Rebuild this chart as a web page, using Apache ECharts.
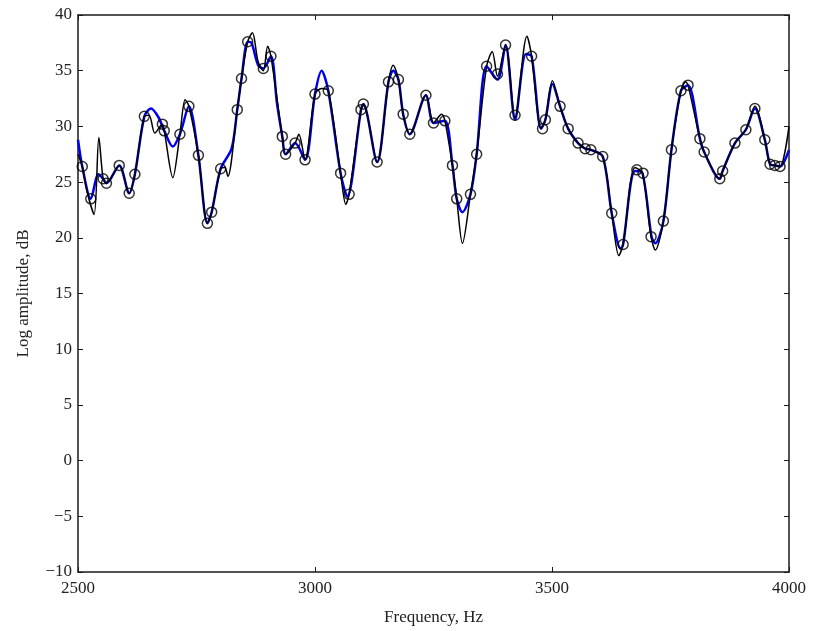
<!DOCTYPE html>
<html>
<head>
<meta charset="utf-8">
<script src="https://cdn.jsdelivr.net/npm/echarts@6/dist/echarts.min.js"></script>
<style>
    html, body { margin: 0; padding: 0; background: #fff; }
    #chart { width: 817px; height: 631px; }
</style>
</head>
<body>
<div id="chart"></div>
<script>
// smooth (blue) spectrum
var blueFreq = [2500, 2509, 2527, 2543, 2553, 2560, 2587, 2608, 2620, 2640, 2654, 2670, 2682, 2700, 2715, 2734, 2754, 2773, 2782, 2801, 2824, 2836, 2845, 2858, 2866, 2880, 2891, 2907, 2920, 2931, 2938, 2958, 2979, 3000, 3014, 3028, 3054, 3068, 3097, 3102, 3131, 3155, 3165, 3176, 3186, 3200, 3234, 3250, 3274, 3290, 3299, 3311, 3328, 3341, 3362, 3385, 3402, 3422, 3445, 3457, 3477, 3486, 3501, 3517, 3534, 3555, 3570, 3582, 3607, 3626, 3645, 3650, 3675, 3691, 3710, 3718, 3735, 3752, 3772, 3787, 3812, 3821, 3854, 3860, 3886, 3909, 3928, 3949, 3960, 3970, 3981, 4000];
var blueAmp = [28.8, 26.4, 23.5, 25.7, 25.3, 24.9, 26.5, 24.0, 25.7, 30.9, 31.6, 30.8, 29.6, 28.2, 29.3, 31.8, 27.4, 21.3, 22.3, 26.2, 28.0, 31.5, 34.3, 37.6, 37.5, 35.5, 35.2, 36.3, 32.0, 29.1, 27.5, 28.5, 27.0, 32.9, 35.0, 33.2, 25.8, 23.7, 31.5, 32.0, 26.8, 34.0, 35.0, 34.2, 31.1, 29.3, 32.8, 30.3, 30.5, 26.5, 23.5, 22.3, 23.9, 27.5, 35.4, 34.2, 37.3, 30.6, 36.5, 36.3, 29.8, 30.6, 33.8, 31.8, 29.8, 28.5, 28.0, 27.9, 27.3, 22.2, 19.0, 19.4, 26.0, 25.8, 20.1, 19.5, 21.5, 27.9, 33.2, 33.7, 28.9, 27.7, 25.3, 26.0, 28.5, 29.7, 31.6, 28.8, 26.6, 26.5, 26.4, 27.9];

// fine (black) spectrum
var blackFreq = [2500, 2509, 2520, 2534, 2544, 2553, 2560, 2587, 2608, 2620, 2640, 2650, 2662, 2678, 2682, 2700, 2715, 2726, 2734, 2754, 2773, 2782, 2801, 2810, 2816, 2836, 2845, 2858, 2868, 2880, 2891, 2900, 2907, 2931, 2938, 2958, 2966, 2979, 3000, 3014, 3028, 3054, 3065, 3072, 3097, 3102, 3131, 3155, 3165, 3176, 3186, 3200, 3234, 3250, 3267, 3274, 3290, 3299, 3311, 3328, 3341, 3362, 3374, 3385, 3402, 3422, 3447, 3457, 3477, 3486, 3501, 3517, 3534, 3555, 3570, 3582, 3607, 3626, 3641, 3650, 3675, 3691, 3709, 3718, 3735, 3752, 3772, 3782, 3787, 3812, 3821, 3854, 3860, 3886, 3909, 3928, 3949, 3960, 3970, 3981, 4000];
var blackAmp = [27.5, 26.4, 24.0, 22.1, 29.0, 25.3, 24.9, 26.5, 24.0, 25.7, 30.9, 31.0, 29.4, 30.2, 29.6, 25.4, 29.3, 32.4, 31.8, 27.4, 21.3, 22.3, 26.2, 26.3, 25.5, 31.5, 34.3, 37.6, 38.4, 35.8, 35.0, 37.2, 36.3, 29.1, 27.5, 28.5, 29.3, 27.0, 32.9, 33.4, 33.2, 25.8, 23.0, 23.9, 31.5, 32.0, 26.8, 34.0, 35.5, 34.2, 31.1, 29.3, 32.8, 30.3, 31.1, 30.5, 26.5, 23.5, 19.5, 23.9, 27.5, 35.4, 36.7, 34.5, 37.3, 30.8, 38.1, 36.3, 29.8, 30.6, 34.1, 31.8, 29.8, 28.5, 28.0, 27.9, 27.3, 22.2, 18.4, 19.4, 26.3, 25.8, 20.1, 18.9, 21.5, 27.9, 33.2, 34.0, 33.7, 28.9, 27.7, 25.3, 26.0, 28.5, 29.7, 31.8, 28.8, 26.6, 26.5, 26.4, 30.0];

// sampled points (circles)
var circFreq = [2509, 2527, 2553, 2560, 2587, 2608, 2620, 2640, 2678, 2682, 2715, 2734, 2754, 2773, 2782, 2801, 2836, 2845, 2858, 2891, 2907, 2931, 2938, 2958, 2979, 3000, 3028, 3054, 3072, 3097, 3102, 3131, 3155, 3176, 3186, 3200, 3234, 3250, 3274, 3290, 3299, 3328, 3341, 3362, 3385, 3402, 3422, 3457, 3480, 3486, 3517, 3534, 3555, 3570, 3582, 3607, 3626, 3650, 3679, 3692, 3709, 3735, 3752, 3772, 3787, 3812, 3821, 3854, 3860, 3886, 3909, 3928, 3949, 3960, 3970, 3981];
var circAmp = [26.4, 23.5, 25.3, 24.9, 26.5, 24.0, 25.7, 30.9, 30.2, 29.6, 29.3, 31.8, 27.4, 21.3, 22.3, 26.2, 31.5, 34.3, 37.6, 35.2, 36.3, 29.1, 27.5, 28.5, 27.0, 32.9, 33.2, 25.8, 23.9, 31.5, 32.0, 26.8, 34.0, 34.2, 31.1, 29.3, 32.8, 30.3, 30.5, 26.5, 23.5, 23.9, 27.5, 35.4, 34.7, 37.3, 31.0, 36.3, 29.8, 30.6, 31.8, 29.8, 28.5, 28.0, 27.9, 27.3, 22.2, 19.4, 26.1, 25.8, 20.1, 21.5, 27.9, 33.2, 33.7, 28.9, 27.7, 25.3, 26.0, 28.5, 29.7, 31.6, 28.8, 26.6, 26.5, 26.4];

function zip(xs, ys) {
    var out = [];
    for (var i = 0; i < xs.length; i++) out.push([xs[i], ys[i]]);
    return out;
}

var myChart = echarts.init(document.getElementById('chart'));
var font = 'Liberation Serif';
var axisColor = '#1a1a1a';

function boxAxis(extra) {
    var a = {
        axisLine: { show: true, onZero: false, lineStyle: { color: axisColor, width: 1.5 } },
        axisTick: { show: true, inside: true, length: 5, lineStyle: { color: axisColor, width: 1 } },
        splitLine: { show: false },
        axisLabel: { show: false }
    };
    for (var k in extra) a[k] = extra[k];
    return a;
}

function plainNum(v) {
    return String(v).replace('-', '\u2212');
}

var option = {
    animation: false,
    backgroundColor: '#fff',
    grid: { left: 78, right: 28, top: 15, bottom: 56 },
    xAxis: [
        boxAxis({
            type: 'value', min: 2500, max: 4000, interval: 500, position: 'bottom',
            name: 'Frequency, Hz', nameLocation: 'middle', nameGap: 37,
            nameTextStyle: { fontFamily: font, fontSize: 17, color: '#222' },
            axisLabel: { show: true, margin: 8, fontFamily: font, fontSize: 17, color: '#222', formatter: plainNum }
        }),
        boxAxis({ type: 'value', min: 2500, max: 4000, interval: 500, position: 'top' })
    ],
    yAxis: [
        boxAxis({
            type: 'value', min: -10, max: 40, interval: 5, position: 'left',
            name: 'Log amplitude, dB', nameLocation: 'middle', nameGap: 46,
            nameTextStyle: { fontFamily: font, fontSize: 17, color: '#222' },
            axisLabel: { show: true, margin: 6, fontFamily: font, fontSize: 17, color: '#222', formatter: plainNum }
        }),
        boxAxis({ type: 'value', min: -10, max: 40, interval: 5, position: 'right' })
    ],
    series: [
        {
            type: 'line',
            data: zip(blueFreq, blueAmp),
            smooth: 0.3,
            showSymbol: false,
            lineStyle: { color: '#0000ee', width: 2.5 },
            z: 2
        },
        {
            type: 'line',
            data: zip(blackFreq, blackAmp),
            smooth: 0.3,
            showSymbol: false,
            lineStyle: { color: '#000', width: 1.5 },
            z: 3
        },
        {
            type: 'scatter',
            data: zip(circFreq, circAmp),
            symbol: 'circle',
            symbolSize: 10,
            itemStyle: { color: 'rgba(0,0,0,0)', borderColor: '#000', borderWidth: 1.5 },
            z: 4
        }
    ]
};
myChart.setOption(option);
</script>
</body>
</html>
